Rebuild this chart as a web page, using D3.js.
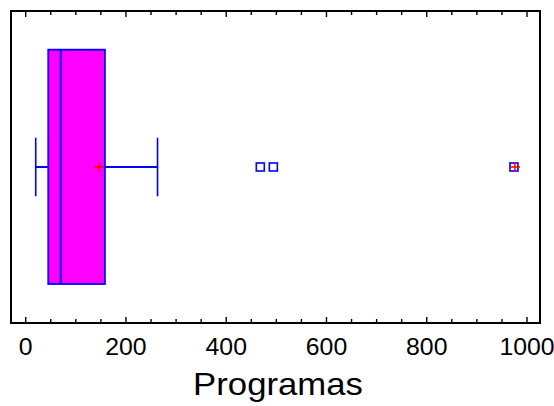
<!DOCTYPE html>
<html>
<head>
<meta charset="utf-8">
<script src="https://cdn.jsdelivr.net/npm/d3@7"></script>
<style>
  html, body { margin: 0; padding: 0; background: #fff; }
  svg { display: block; }
</style>
</head>
<body>
<svg id="chart" width="554" height="406"></svg>
<script>
// Five-number summary of "Programas" plus mean and outliers
const boxStats = { min: 20, q1: 45, median: 70, q3: 158, max: 263 };
const meanValue = [147];
const outliers = [468, 494];
const farOutliers = [974];
const majorTicks = [0, 200, 400, 600, 800, 1000];
const minorTicks = d3.range(0, 1001, 50);
const axisTitle = "Programas";

const svg = d3.select("#chart");
const frame = { left: 11, top: 11, right: 540, bottom: 323 };

const x = d3.scaleLinear().domain([0, 1000]).range([25.7, 527]);
const y = d3.scaleLinear().domain([0, 1]).range([frame.bottom, frame.top]);

const boxTop = y(0.876), boxBottom = y(0.125), mid = y(0.5);
const capHalf = (boxBottom - boxTop) / 8;

// Frame
svg.append("rect")
  .attr("x", frame.left).attr("y", frame.top)
  .attr("width", frame.right - frame.left).attr("height", frame.bottom - frame.top)
  .attr("fill", "none").attr("stroke", "#000").attr("stroke-width", 2);

// Tick marks on top and bottom edges, pointing inward
const tickG = svg.append("g").attr("stroke", "#000").attr("stroke-width", 1.4);
minorTicks.forEach(v => {
  const len = majorTicks.includes(v) ? 6 : 4;
  tickG.append("line").attr("x1", x(v)).attr("x2", x(v))
    .attr("y1", frame.top).attr("y2", frame.top + len);
  tickG.append("line").attr("x1", x(v)).attr("x2", x(v))
    .attr("y1", frame.bottom).attr("y2", frame.bottom - len);
});

// Tick labels
svg.append("g").selectAll("text").data(majorTicks).join("text")
  .attr("transform", d => `translate(${x(d)},355) scale(1.08,1)`)
  .attr("text-anchor", "middle")
  .attr("font-family", "Liberation Sans, Arial, sans-serif")
  .attr("font-size", 23)
  .attr("fill", "#000")
  .text(d => d);

// Axis title
svg.append("text")
  .attr("transform", `translate(278,395) scale(1.12,1)`)
  .attr("text-anchor", "middle")
  .attr("font-family", "Liberation Sans, Arial, sans-serif")
  .attr("font-size", 31)
  .attr("fill", "#000")
  .text(axisTitle);

const blue = "#0000ff";

// Whiskers
const wg = svg.append("g").attr("stroke", blue).attr("stroke-width", 2);
wg.append("line").attr("x1", x(boxStats.min)).attr("x2", x(boxStats.q1))
  .attr("y1", mid).attr("y2", mid);
wg.append("line").attr("x1", x(boxStats.q3)).attr("x2", x(boxStats.max))
  .attr("y1", mid).attr("y2", mid);
[boxStats.min, boxStats.max].forEach(v => {
  wg.append("line").attr("x1", x(v)).attr("x2", x(v))
    .attr("y1", mid - capHalf).attr("y2", mid + capHalf).attr("stroke-width", 1.6);
});

// Box
svg.append("rect")
  .attr("x", x(boxStats.q1)).attr("y", boxTop)
  .attr("width", x(boxStats.q3) - x(boxStats.q1)).attr("height", boxBottom - boxTop)
  .attr("fill", "#ff00ff").attr("stroke", blue).attr("stroke-width", 1.8);

// Median
svg.append("line")
  .attr("x1", x(boxStats.median)).attr("x2", x(boxStats.median))
  .attr("y1", boxTop).attr("y2", boxBottom)
  .attr("stroke", blue).attr("stroke-width", 2);

// Mean marker
function plus(g, cx, cy, r) {
  g.append("line").attr("x1", cx - r).attr("x2", cx + r).attr("y1", cy).attr("y2", cy);
  g.append("line").attr("x1", cx).attr("x2", cx).attr("y1", cy - r).attr("y2", cy + r);
}
const red = "#ff0000";
const meanG = svg.append("g").attr("stroke", red).attr("stroke-width", 1.5);
meanValue.forEach(v => plus(meanG, x(v), mid, 5));

// Outliers
const sq = 8;
svg.append("g").selectAll("rect").data(outliers.concat(farOutliers)).join("rect")
  .attr("x", d => x(d) - sq / 2).attr("y", mid - sq / 2)
  .attr("width", sq).attr("height", sq)
  .attr("fill", "none").attr("stroke", blue).attr("stroke-width", 1.6);
const farG = svg.append("g").attr("stroke", red).attr("stroke-width", 1.5);
farOutliers.forEach(v => plus(farG, x(v) + 1, mid, 5));
</script>
</body>
</html>
